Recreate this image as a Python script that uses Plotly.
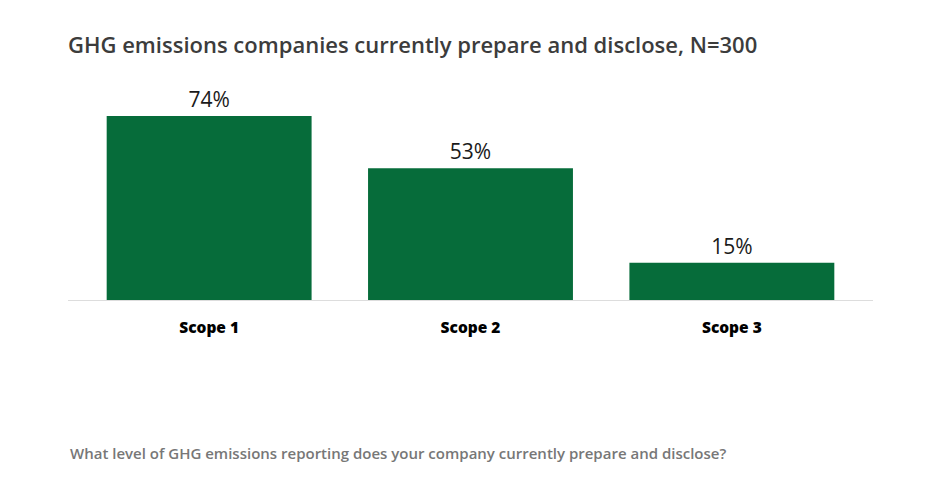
import plotly.graph_objects as go

categories = ["Scope 1", "Scope 2", "Scope 3"]
values = [74, 53, 15]
labels = ["74%", "53%", "15%"]

W, H = 928, 488
off = 8  # page body offset
left, right = 68 - off, 873 - off
baseline = 300 - off
px_per_unit = 2.49
ymax = 80
top = baseline - ymax * px_per_unit

fig = go.Figure(go.Bar(
    x=categories, y=values, text=labels, textposition="outside",
    textfont=dict(family="Open Sans", size=21, color="#1a1a1a"),
    marker=dict(color="#066c3a", line=dict(width=0)),
    width=0.784, cliponaxis=False, hoverinfo="skip",
))

fig.update_layout(
    width=W, height=H,
    margin=dict(l=left, r=W - right, t=top, b=H - baseline, pad=0),
    paper_bgcolor="white", plot_bgcolor="white",
    showlegend=False,
    title=dict(text="GHG emissions companies currently prepare and disclose, N=300",
               x=left / W, xanchor="left", y=1 - (45 - off) / H, yanchor="middle",
               font=dict(family="Open Sans", size=22, color="#3c3c3c", weight=600)),
    xaxis=dict(range=[-0.54, 2.54], showgrid=False, zeroline=False,
               showline=True, linecolor="#dddddd", linewidth=1,
               tickfont=dict(family="Open Sans", size=15.5, color="#000000", weight=800),
               ticks="", ticklen=0, ticklabelstandoff=13, fixedrange=True),
    yaxis=dict(range=[0, ymax], visible=False, fixedrange=True),
    annotations=[dict(
        text="What level of GHG emissions reporting does your company currently prepare and disclose?",
        xref="paper", yref="paper", x=0, xanchor="left",
        y=-(453 - 300) / (baseline - top), yanchor="middle", showarrow=False,
        font=dict(family="Open Sans", size=15, color="#777777", weight=600),
    )],
)

fig.write_html("out.html")
